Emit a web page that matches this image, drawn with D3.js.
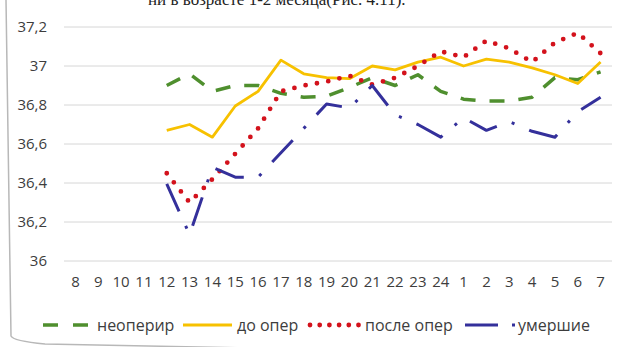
<!DOCTYPE html>
<html>
<head>
<meta charset="utf-8">
<script src="https://cdn.jsdelivr.net/npm/d3@7/dist/d3.min.js"></script>
<style>
  html, body { margin: 0; padding: 0; background: #fff; }
  svg { display: block; }
</style>
</head>
<body>
<svg id="chart" width="629" height="347"></svg>
<script>
// Hours of the day (8:00 through 7:00 next morning)
const categories = ["8","9","10","11","12","13","14","15","16","17","18","19","20",
                    "21","22","23","24","1","2","3","4","5","6","7"];

// Mean body temperature per hour, by group
const neoperir  = [null,null,null,null, 36.90,36.96,36.87,36.90,36.90,36.86,36.84,36.845,36.89,
                   36.94,36.90,36.955,36.87,36.83,36.82,36.82,36.84,36.94,36.93,36.97];
const doOper    = [null,null,null,null, 36.67,36.70,36.635,36.795,36.87,37.03,36.96,36.94,36.935,
                   37.00,36.98,37.02,37.045,37.00,37.035,37.02,36.99,36.955,36.91,37.02];
const posleOper = [null,null,null,null, 36.45,36.30,36.42,36.55,36.68,36.87,36.90,36.92,36.95,
                   36.905,36.94,37.00,37.075,37.045,37.13,37.09,37.02,37.12,37.17,37.065];
const umershie  = [null,null,null,null, 36.395,36.135,36.48,36.43,36.43,36.555,36.68,36.805,36.785,
                   36.90,36.75,36.70,36.635,36.735,36.67,36.715,36.665,36.635,36.765,36.84];

const yTicks = [36, 36.2, 36.4, 36.6, 36.8, 37, 37.2];

const seriesNames = ["неоперир", "до опер", "после опер", "умершие"];

const svg = d3.select("#chart");
const FONT = "'Open Sans', 'Noto Sans', sans-serif";
const TEXT = "#3d3d3d";

// caption line from the page above the chart, mostly cut off
svg.append("text")
  .attr("x", 148).attr("y", 5)
  .attr("font-family", "'Liberation Serif', serif")
  .attr("font-size", 17)
  .attr("fill", "#222")
  .text("ни в возрасте 1-2 месяца(Рис. 4.11).");

// page edge
svg.append("path")
  .attr("d", "M6,0 L11,336 Q13,341 45,344 L250,348")
  .attr("fill", "none")
  .attr("stroke", "#b8b8b8")
  .attr("stroke-width", 1.5);

const x = d3.scaleBand().domain(categories).range([64, 612]).padding(0);
const cx = c => x(c) + x.bandwidth() / 2;
const y = d3.scaleLinear().domain([36, 37.2]).range([261, 27]);

// horizontal gridlines
svg.append("g")
  .selectAll("line")
  .data(yTicks)
  .join("line")
  .attr("x1", 64).attr("x2", 612)
  .attr("y1", d => y(d)).attr("y2", d => y(d))
  .attr("stroke", "#d6d6d6")
  .attr("stroke-width", 1);

const fmt = d => String(Math.round(d * 10) / 10).replace(".", ",");

// value axis
const yAxis = svg.append("g")
  .attr("transform", "translate(64,0)")
  .call(d3.axisLeft(y).tickValues(yTicks).tickFormat(fmt).tickSize(0).tickPadding(17));
yAxis.select(".domain").remove();
yAxis.selectAll("text")
  .attr("font-family", FONT).attr("font-size", 15).attr("fill", TEXT);

// category axis
const xAxis = svg.append("g")
  .attr("transform", "translate(0,261)")
  .call(d3.axisBottom(x).tickSize(0).tickPadding(15));
xAxis.select(".domain").remove();
xAxis.selectAll("text")
  .attr("font-family", FONT).attr("font-size", 15).attr("fill", TEXT);

const line = vals => d3.line()
  .defined(d => d != null)
  .x((d, i) => cx(categories[i]))
  .y(d => y(d))(vals);

const styles = [
  { data: neoperir,  color: "#4f8f2e", width: 3.5, dash: "15 14", cap: "butt" },
  { data: doOper,    color: "#f7c100", width: 2.8, dash: null,    cap: "butt" },
  { data: posleOper, color: "#d3121c", width: 4.8, dash: "0 11.5", cap: "round" },
  { data: umershie,  color: "#34309b", width: 3,   dash: "30 16 3 16", cap: "butt" }
];

const plot = svg.append("g");
styles.forEach(s => {
  plot.append("path")
    .attr("d", line(s.data))
    .attr("fill", "none")
    .attr("stroke", s.color)
    .attr("stroke-width", s.width)
    .attr("stroke-linecap", s.cap)
    .attr("stroke-linejoin", "round")
    .attr("stroke-dasharray", s.dash);
});

// legend
const lg = svg.append("g");
const ly = 325;
const legendItems = [
  { x1: 43,  x2: 88,  text: 97,  s: styles[0], dash: "15 15" },
  { x1: 183, x2: 232, text: 237, s: styles[1], dash: null },
  { x1: 310, x2: 359, text: 365, s: styles[2], dash: "0 9.7" },
  { x1: 465, x2: 515, text: 518, s: styles[3], dash: "33 14 3 100" }
];
legendItems.forEach((it, i) => {
  lg.append("line")
    .attr("x1", it.x1).attr("x2", it.x2)
    .attr("y1", ly).attr("y2", ly)
    .attr("stroke", it.s.color)
    .attr("stroke-width", it.s.width)
    .attr("stroke-linecap", it.s.cap)
    .attr("stroke-dasharray", it.dash);
  lg.append("text")
    .attr("x", it.text).attr("y", ly)
    .attr("dy", "0.35em")
    .attr("font-family", FONT).attr("font-size", 16).attr("fill", TEXT)
    .text(seriesNames[i]);
});
</script>
</body>
</html>
